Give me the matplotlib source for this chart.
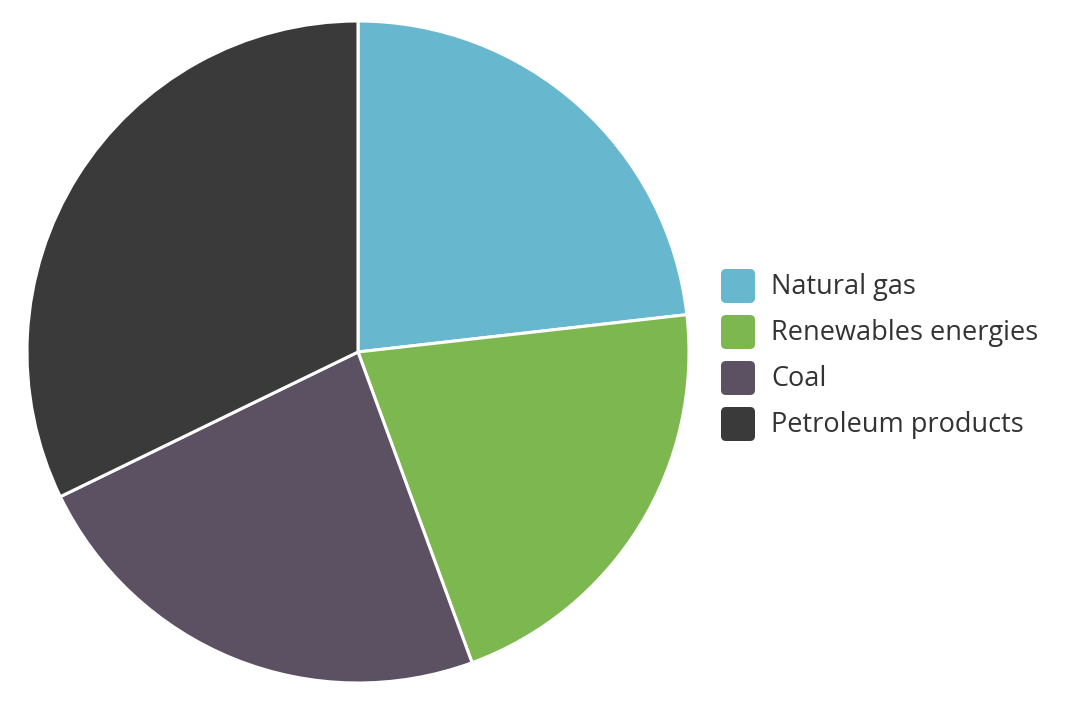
import matplotlib.pyplot as plt
from matplotlib.patches import FancyBboxPatch

# %% DATA
labels = ["Natural gas", "Renewables energies", "Coal", "Petroleum products"]
values = [23.2, 21.2, 23.4, 32.2]
colors = ["#67b7cf", "#7db74f", "#5c5163", "#3a3a3a"]

# %% FIGURE
W, H = 1072, 704
fig = plt.figure(figsize=(W / 100, H / 100), dpi=100)
fig.patch.set_facecolor("white")

# pie centred at (358, 352) px, radius 330 px
cx, cy, r = 358, 352, 331
ax = fig.add_axes([(cx - r) / W, (H - cy - r) / H, 2 * r / W, 2 * r / H])
ax.pie(values, colors=colors, startangle=90, counterclock=False, radius=1,
       wedgeprops=dict(edgecolor="white", linewidth=2.2))
ax.set_xlim(-1, 1)
ax.set_ylim(-1, 1)
ax.set_aspect("equal")
ax.axis("off")

# %% LEGEND (drawn by hand, pixel coordinates)
lax = fig.add_axes([0, 0, 1, 1], facecolor="none")
lax.set_xlim(0, W)
lax.set_ylim(H, 0)
lax.axis("off")

y0, step, box = 286, 46, 34
for i, (lab, col) in enumerate(zip(labels, colors)):
    yc = y0 + i * step
    lax.add_patch(FancyBboxPatch((721 + 5, yc - box / 2 + 5), box - 10, box - 10,
                                 boxstyle="round,pad=5", facecolor=col,
                                 edgecolor="none"))
    lax.text(771, yc + 1, lab, fontsize=19.5, family="Open Sans",
             color="#333333", va="center", ha="left")

fig.savefig("out.png", dpi=100, facecolor="white")
